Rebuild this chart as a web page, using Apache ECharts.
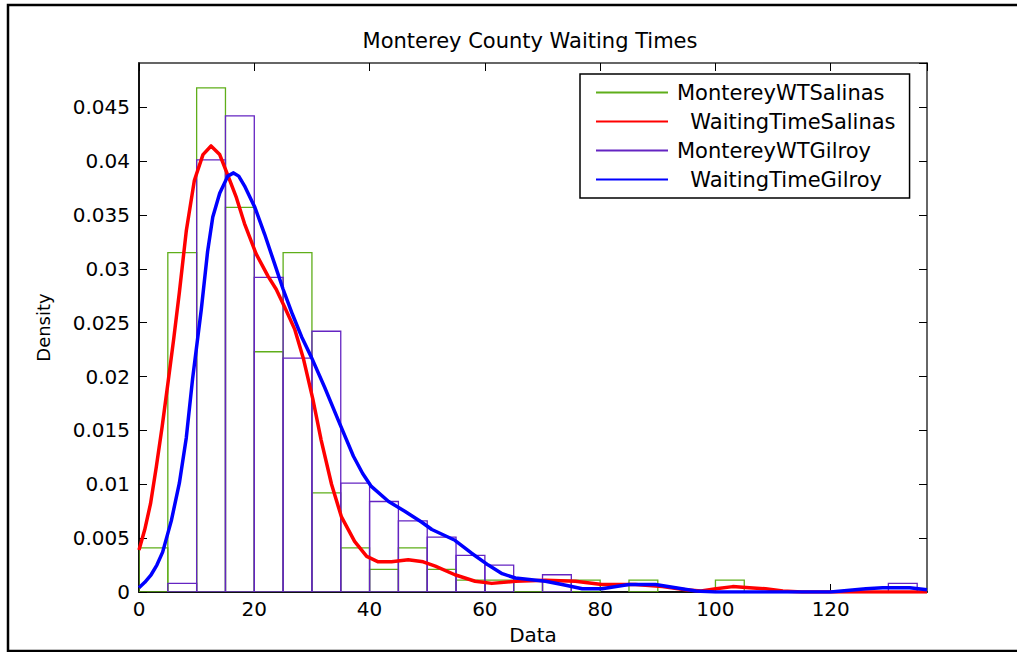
<!DOCTYPE html>
<html>
<head>
<meta charset="utf-8">
<title>Monterey County Waiting Times</title>
<script src="https://cdn.jsdelivr.net/npm/echarts@6.0.0/dist/echarts.min.js"></script>
<style>
  html, body { margin: 0; padding: 0; background: #fff; }
  #chart { width: 1017px; height: 652px; }
</style>
</head>
<body>
<div id="chart"></div>
<script>
// histogram bins (width 5, starting at 0)
var binWidth = 5;
var binStarts = [0, 5, 10, 15, 20, 25, 30, 35, 40, 45, 50, 55, 60, 65, 70, 75, 80, 85, 90, 95, 100, 105, 110, 115, 120, 125, 130];

var salinasHist = [0.0041, 0.0315, 0.0468, 0.0357, 0.0223, 0.0315, 0.0092, 0.0041, 0.0021, 0.0041, 0.0021, 0.0011, 0.0011, 0.0011,
	0.0011, 0.0011, 0, 0.0011, 0, 0, 0.0011, 0, 0, 0, 0, 0, 0];
var gilroyHist = [0, 0.0008, 0.0401, 0.0442, 0.0292, 0.0217, 0.0242, 0.0101, 0.0084, 0.0066, 0.0051, 0.0034, 0.0025, 0,
	0.0016, 0, 0, 0, 0, 0, 0, 0, 0, 0, 0, 0, 0.0008];

// fitted density curves [x, density]
var salinasCurve = [
	[0, 0.0039], [1, 0.0058], [2, 0.0082], [3, 0.0116], [4, 0.0153], [5, 0.0193], [6, 0.0234], [7, 0.0278], [8.2, 0.0335],
	[9.6, 0.0382], [11.1, 0.0406], [12.5, 0.0414], [14, 0.0406], [15.4, 0.0387], [16.9, 0.0366], [18.3, 0.0342],
	[20.3, 0.0314], [22.4, 0.0293], [23.8, 0.0281], [25.3, 0.0264], [27, 0.0244], [28.5, 0.0217], [30.2, 0.0178],
	[31.6, 0.0141], [33.4, 0.0100], [35.1, 0.0070], [37.4, 0.0047], [39.5, 0.0033], [41.5, 0.0028], [43.8, 0.0028],
	[46.7, 0.0030], [49.3, 0.0028], [51.4, 0.0024], [54.8, 0.0016], [58.3, 0.0010], [61.2, 0.0008], [65.3, 0.0010],
	[70.5, 0.0011], [75.7, 0.0010], [80.3, 0.0007], [86.1, 0.0007], [90.8, 0.0005], [94.8, 0.0002], [97.5, 0.0001],
	[100.1, 0.0003], [103, 0.0005], [105.9, 0.0004], [108.7, 0.0003], [111.7, 0.0001], [115, 0], [125, 0], [136.7, 0]
];
var gilroyCurve = [
	[0, 0.0004], [1, 0.0009], [2.1, 0.0016], [3.1, 0.0025], [4.1, 0.0037], [5.6, 0.0066], [7, 0.0101], [8.2, 0.0143],
	[9.3, 0.0198], [10.8, 0.0262], [11.9, 0.0316], [12.8, 0.0348], [14, 0.0370], [15.4, 0.0386], [16.4, 0.0389],
	[17.3, 0.0386], [18.3, 0.0377], [20.1, 0.0357], [21.8, 0.0332], [23.5, 0.0305], [25, 0.0281], [26.6, 0.0258],
	[28.2, 0.0237], [29.9, 0.0218], [32.2, 0.0190], [34.6, 0.0159], [37.2, 0.0126], [38.8, 0.0110], [40.3, 0.0098],
	[43.3, 0.0084], [46.1, 0.0075], [49, 0.0065], [50.8, 0.0058], [54.8, 0.0048], [57.7, 0.0036], [60.6, 0.0025],
	[63, 0.0017], [65.3, 0.0013], [70.5, 0.0010], [73.4, 0.0007], [76.9, 0.0003], [80.3, 0.0003], [85, 0.0007],
	[89.6, 0.0007], [93.1, 0.0004], [96.6, 0.0001], [100, 0], [120, 0], [126.1, 0.0003], [129, 0.0004],
	[133.7, 0.0004], [136.7, 0.0002]
];

var xMax = 136.7;
var yMax = 0.0491;
var font = 'DejaVu Sans';

function histData(values){
	var out = [];
	for(var i = 0; i < binStarts.length; ++i){
		out.push([binStarts[i], values[i]]);
	}
	return out;
}

function histSeries(name, values, color){
	return {
		name : name,
		type : 'custom',
		clip : true,
		z : 2,
		encode : {x : 0, y : 1},
		data : histData(values),
		renderItem : function(params, api){
			var v = api.value(1);
			if(!v){
				return null;
			}
			var x0 = api.value(0);
			var p0 = api.coord([x0, v]);
			var p1 = api.coord([x0 + binWidth, 0]);
			return {
				type : 'rect',
				shape : {x : p0[0], y : p0[1], width : p1[0] - p0[0], height : p1[1] - p0[1]},
				style : {fill : 'none', stroke : color, lineWidth : 1.3}
			};
		}
	};
}

// empty line series, only so the legend shows a thin line for the histograms
function legendLine(name, color){
	return {
		name : name,
		type : 'line',
		data : [],
		symbol : 'none',
		lineStyle : {color : color, width : 1.3},
		itemStyle : {color : color}
	};
}

function curveSeries(name, data, color, z){
	return {
		name : name,
		type : 'line',
		data : data,
		symbol : 'none',
		smooth : false,
		clip : true,
		z : z,
		lineStyle : {color : color, width : 3.5, join : 'round'},
		itemStyle : {color : color}
	};
}

var green = '#5fae1a';
var purple = '#6424c2';

function axisCommon(pos, showLabel, max, interval, width, color){
	return {
		type : 'value',
		position : pos,
		min : 0,
		max : max,
		interval : interval,
		splitLine : {show : false},
		axisLine : {show : true, onZero : false, lineStyle : {color : color, width : width}},
		axisTick : {show : true, inside : true, length : 8, lineStyle : {color : '#000', width : 1}},
		axisLabel : {show : showLabel, showMaxLabel : false, color : '#000', fontSize : 20, fontFamily : font}
	};
}

var xBottom = axisCommon('bottom', true, xMax, 20, 2, '#111');
xBottom.axisLabel.margin = 7;
xBottom.name = 'Data';
xBottom.nameLocation = 'middle';
xBottom.nameGap = 33;
xBottom.nameTextStyle = {color : '#000', fontSize : 20, fontFamily : font};

var yLeft = axisCommon('left', true, yMax, 0.005, 2, '#111');
yLeft.axisLabel.margin = 9;
yLeft.name = 'Density';
yLeft.nameLocation = 'middle';
yLeft.nameGap = 87;
yLeft.nameTextStyle = {color : '#000', fontSize : 18, fontFamily : font};

var option = {
	animation : false,
	backgroundColor : '#fff',
	title : {
		text : 'Monterey County Waiting Times',
		left : 530,
		top : 30,
		padding : 0,
		textAlign : 'center',
		textStyle : {color : '#000', fontSize : 21, fontWeight : 'normal', fontFamily : font}
	},
	legend : {
		orient : 'vertical',
		left : 580,
		top : 74,
		padding : [8, 14, 8, 15],
		itemWidth : 72,
		itemHeight : 14,
		itemGap : 8,
		selectedMode : false,
		backgroundColor : '#fff',
		borderColor : '#000',
		borderWidth : 1.5,
		itemStyle : {opacity : 0},
		data : ['MontereyWTSalinas', 'WaitingTimeSalinas', 'MontereyWTGilroy', 'WaitingTimeGilroy'],
		formatter : function(name){
			return name.indexOf('Waiting') === 0 ? '\u00a0\u00a0' + name : name;
		},
		textStyle : {color : '#000', fontSize : 21, lineHeight : 20, fontFamily : font, padding : [0, 0, 0, 4]}
	},
	grid : {left : 139, right : 90, top : 63, bottom : 60, outerBoundsMode : 'none'},
	xAxis : [xBottom, axisCommon('top', false, xMax, 20, 1.5, '#333')],
	yAxis : [yLeft, axisCommon('right', false, yMax, 0.005, 1.5, '#333')],
	graphic : [{
		type : 'rect',
		silent : true,
		shape : {x : 8, y : 5, width : 1040, height : 646},
		style : {fill : 'none', stroke : '#000', lineWidth : 2.5}
	}],
	series : [
		legendLine('MontereyWTSalinas', green),
		legendLine('MontereyWTGilroy', purple),
		histSeries('MontereyWTSalinas', salinasHist, green),
		curveSeries('WaitingTimeSalinas', salinasCurve, '#ff0000', 3),
		histSeries('MontereyWTGilroy', gilroyHist, purple),
		curveSeries('WaitingTimeGilroy', gilroyCurve, '#0000ff', 4)
	]
};

var chart = echarts.init(document.getElementById('chart'), null, {renderer : 'svg'});
chart.setOption(option);
</script>
</body>
</html>
